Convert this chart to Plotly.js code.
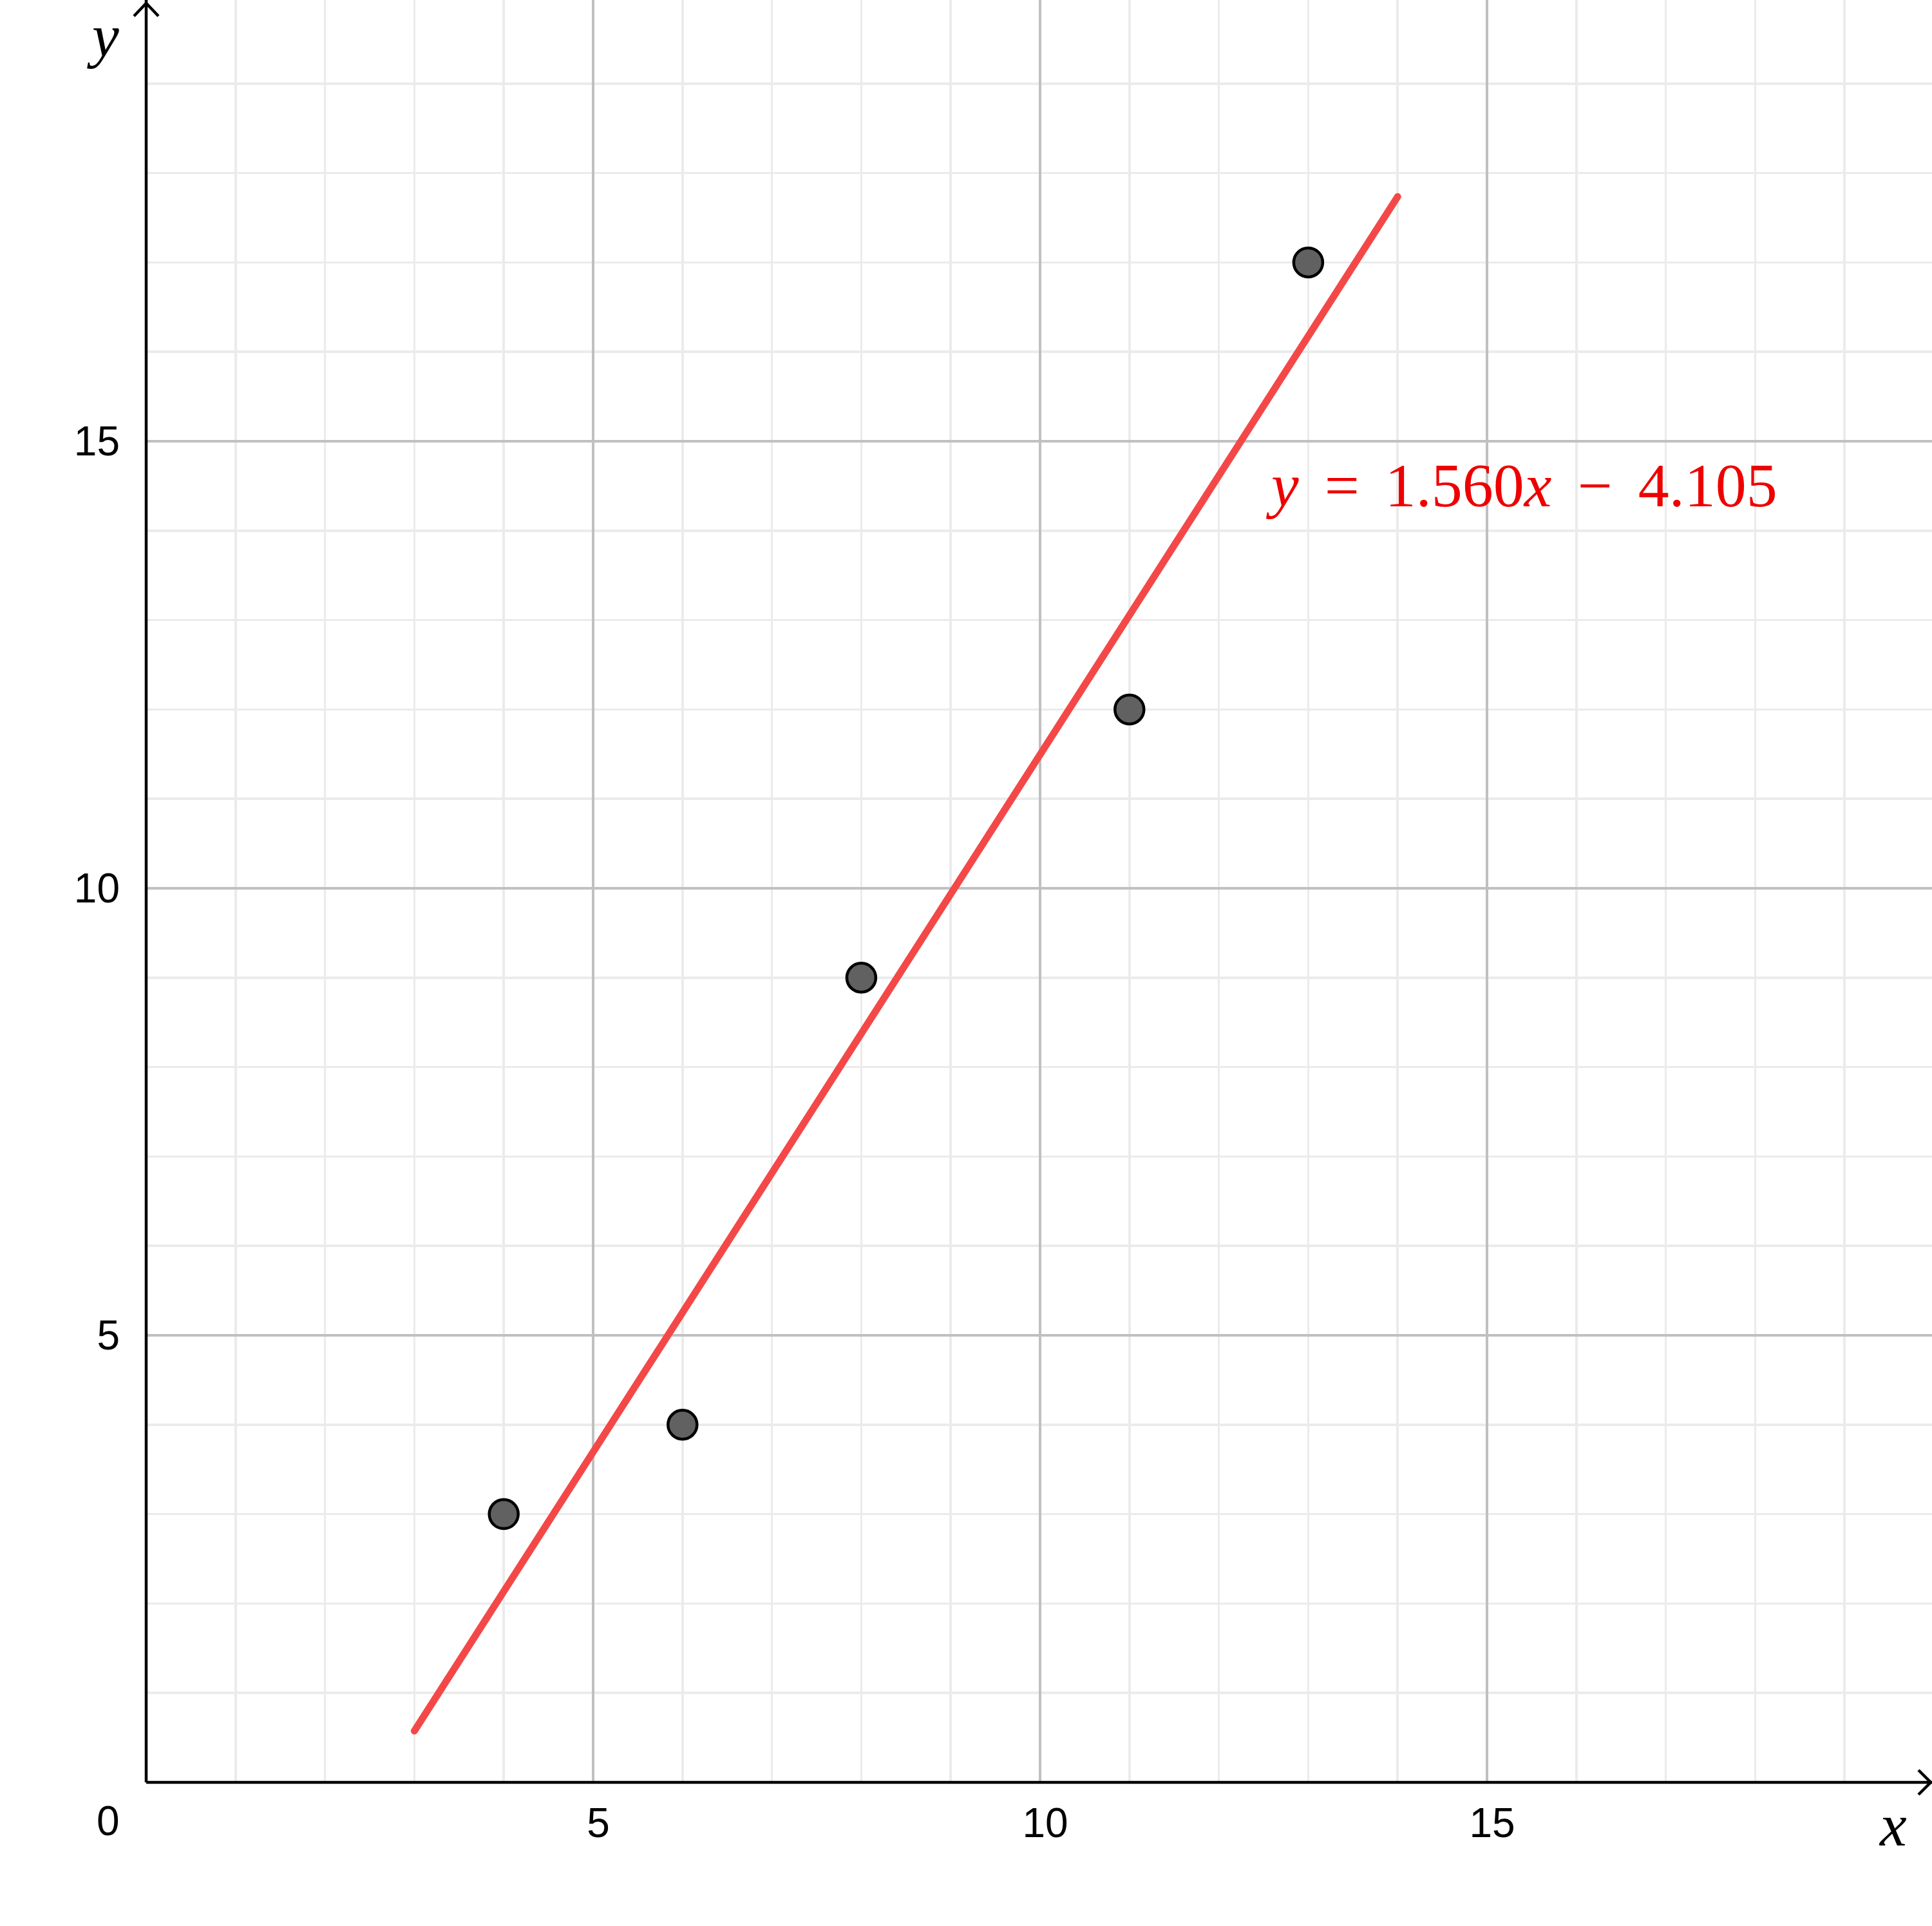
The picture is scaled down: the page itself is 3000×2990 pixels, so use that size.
<!DOCTYPE html>
<html>
<head>
<meta charset="utf-8">
<script src="https://cdn.plot.ly/plotly-3.0.1.min.js"></script>
<style>
  html, body { margin: 0; padding: 0; background: #ffffff; }
  #chart { width: 3000px; height: 2990px; }
</style>
</head>
<body>
<div id="chart"></div>
<script>
// ---- data ----
var pointX = [4, 6, 8, 11, 13];
var pointY = [3, 4, 9, 12, 17];
var fitSlope = 1.560;
var fitIntercept = -4.105;
var fitXStart = 3;
var fitXEnd = 14;
var xTickVals = [0, 5, 10, 15];
var xTickText = ['', '5', '10', '15'];
var yTickVals = [0, 5, 10, 15];
var yTickText = ['', '5', '10', '15'];
var originLabel = '0';
var G = '\u2004\u200A';
var equationText = '<i>y</i>' + G + '=' + G + '1.560<i>x</i>' + G + '\u2212' + G + '4.105';

// ---- build ----
var fitX = [fitXStart, fitXEnd];
var fitY = fitX.map(function (x) { return fitSlope * x + fitIntercept; });

var W = 3000, H = 2990;
var mL = 227, mR = 0, mT = 0, mB = 223;
var unitPx = 138.8;
var PW = W - mL - mR, PH = H - mT - mB;
var xMax = PW / unitPx;
var yMax = PH / unitPx;

var traces = [
  {
    type: 'scatter', mode: 'lines',
    x: fitX, y: fitY,
    line: { color: '#f44848', width: 11 },
    hoverinfo: 'skip', showlegend: false
  },
  {
    type: 'scatter', mode: 'markers',
    x: pointX, y: pointY,
    marker: { size: 45, color: '#616161', line: { color: '#000000', width: 4.5 } },
    hoverinfo: 'skip', showlegend: false
  }
];

var tickFont = { family: 'Liberation Sans, Arial, sans-serif', size: 64, color: '#000000' };
var serifFont = 'Liberation Serif, Times New Roman, serif';

var layout = {
  width: W, height: H,
  margin: { l: mL, r: mR, t: mT, b: mB, pad: 0 },
  paper_bgcolor: '#ffffff', plot_bgcolor: '#ffffff',
  showlegend: false,
  xaxis: {
    range: [0, xMax],
    tickmode: 'array', tickvals: xTickVals, ticktext: xTickText,
    showgrid: true, gridcolor: '#c0c0c0', gridwidth: 3.5,
    minor: { dtick: 1, tick0: 0, showgrid: true, gridcolor: '#ebebeb', gridwidth: 3.5, ticks: '' },
    zeroline: false, showline: false, ticks: '',
    tickfont: tickFont, ticklabelstandoff: 20, ticklabelshift: 8,
    fixedrange: true
  },
  yaxis: {
    range: [0, yMax],
    tickmode: 'array', tickvals: yTickVals, ticktext: yTickText,
    showgrid: true, gridcolor: '#c0c0c0', gridwidth: 3.5,
    minor: { dtick: 1, tick0: 0, showgrid: true, gridcolor: '#ebebeb', gridwidth: 3.5, ticks: '' },
    zeroline: false, showline: false, ticks: '',
    tickfont: tickFont, ticklabelstandoff: 40,
    fixedrange: true
  },
  shapes: [
    { type: 'line', xref: 'paper', yref: 'paper', x0: 0, x1: 1, y0: 0, y1: 0,
      line: { color: '#000000', width: 4.5 }, layer: 'above' },
    { type: 'line', xref: 'paper', yref: 'paper', x0: 0, x1: 0, y0: 0, y1: 1,
      line: { color: '#000000', width: 4.5 }, layer: 'above' },
    { type: 'path', xref: 'paper', yref: 'paper', xsizemode: 'pixel', ysizemode: 'pixel',
      xanchor: 1, yanchor: 0,
      path: 'M -21 19 L -2 0 L -21 -19',
      line: { color: '#000000', width: 4.5 }, layer: 'above' },
    { type: 'path', xref: 'paper', yref: 'paper', xsizemode: 'pixel', ysizemode: 'pixel',
      xanchor: 0, yanchor: 1,
      path: 'M -19 -25 L 0 -5 L 19 -25',
      line: { color: '#000000', width: 4.5 }, layer: 'above' }
  ],
  annotations: [
    { xref: 'paper', yref: 'paper', x: (168 - mL) / PW, y: -60 / PH,
      xanchor: 'center', yanchor: 'middle', showarrow: false,
      text: originLabel, font: tickFont },
    { xref: 'paper', yref: 'paper', x: (160 - mL) / PW, y: 1 - 55 / PH,
      xanchor: 'center', yanchor: 'middle', showarrow: false,
      text: '<i>y</i>', font: { family: serifFont, size: 94, color: '#000000' } },
    { xref: 'paper', yref: 'paper', x: (2939 - mL) / PW, y: -66 / PH,
      xanchor: 'center', yanchor: 'middle', showarrow: false,
      text: '<i>x</i>', font: { family: serifFont, size: 94, color: '#000000' } },
    { xref: 'paper', yref: 'paper', x: (2362 - mL) / PW, y: (2767 - 753) / PH,
      xanchor: 'center', yanchor: 'middle', showarrow: false,
      text: equationText, font: { family: serifFont, size: 96, color: '#ee0000' } }
  ]
};

Plotly.newPlot('chart', traces, layout, { displayModeBar: false, staticPlot: true }).then(function () {
  document.querySelectorAll('.scatterlayer .js-line').forEach(function (p) {
    p.style.strokeLinecap = 'round';
  });
});
</script>
</body>
</html>
